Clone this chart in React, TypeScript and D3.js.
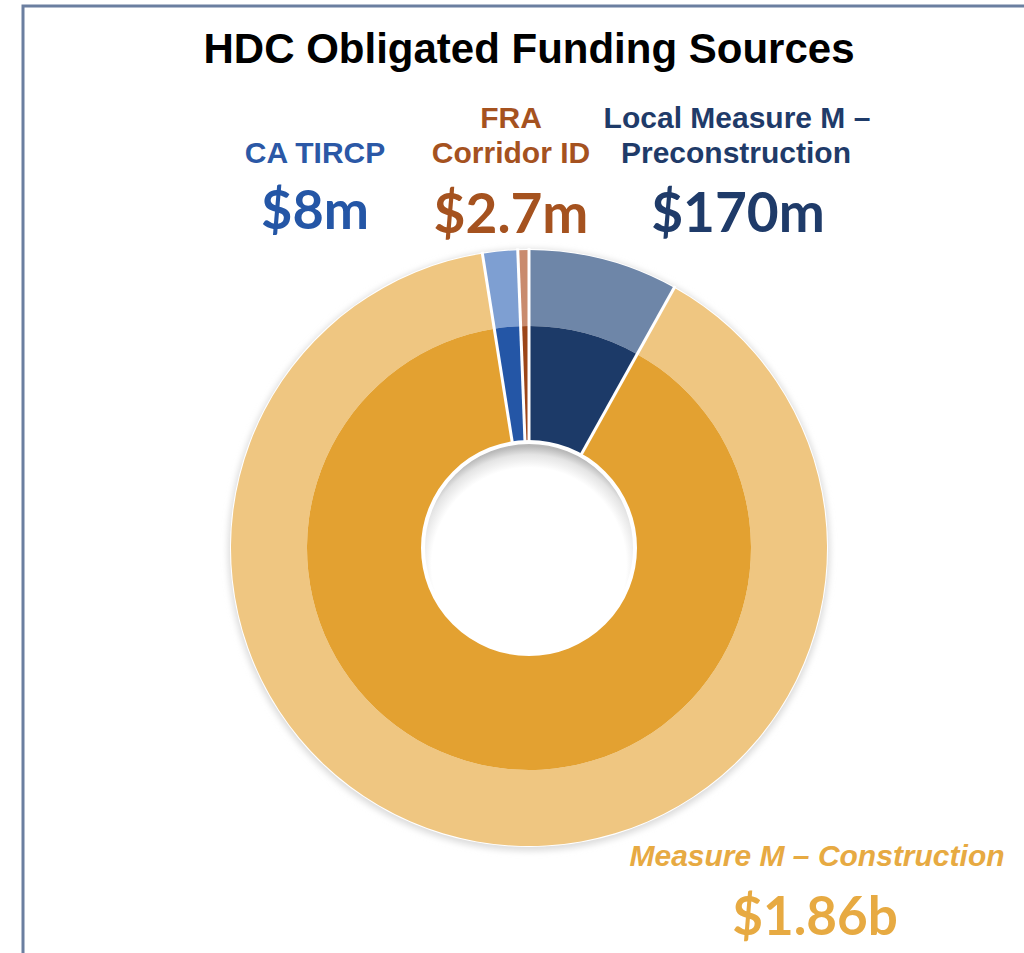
import React from "react";
import * as d3 from "d3";

// Funding sources, in $ millions
const sources = ["Local Measure M – Preconstruction", "Measure M – Construction", "CA TIRCP", "FRA Corridor ID"];
const amounts = [170, 1860, 8, 2.7];
const amountLabels = ["$170m", "$1.86b", "$8m", "$2.7m"];
// slice sizes as drawn in the source (% of the circle) - small slices are enlarged there
const shownShare = [8.1, 89.4, 1.9, 0.6];
const innerColors = ["#1c3a68", "#e3a131", "#2456a6", "#9c4518"];
const outerColors = ["#6e86a8", "#efc681", "#7e9fd2", "#c98b6d"];

const W = 1024;
const H = 953;
const cx = 529;
const cy = 548;
const rHole = 106;
const rMid = 222;
const rOuter = 298;

const App: React.FC = () => {
  const pie = d3
    .pie<number>()
    .sort(null)
    .value((_, i) => shownShare[i]);
  const arcs = pie(amounts);

  const innerArc = d3.arc<d3.PieArcDatum<number>>().innerRadius(rHole).outerRadius(rMid);
  const outerArc = d3.arc<d3.PieArcDatum<number>>().innerRadius(rMid).outerRadius(rOuter);

  const labelFont = "'Liberation Sans', Arial, sans-serif";
  const valueFont = "Lato, 'Open Sans', sans-serif";

  // white separators along the slice edges (radial only)
  const seps = arcs.map((a) => {
    const t = a.startAngle;
    return {
      x1: Math.sin(t) * (rHole - 2),
      y1: -Math.cos(t) * (rHole - 2),
      x2: Math.sin(t) * (rOuter + 2),
      y2: -Math.cos(t) * (rOuter + 2),
    };
  });

  return (
    <svg width={W} height={H} style={{ position: "absolute", left: 0, top: 0, background: "#fff" }}>
      <defs>
        <radialGradient id="holeShade" cx="50%" cy="58%" r="56%">
          <stop offset="0.82" stopColor="#ffffff" />
          <stop offset="0.93" stopColor="#e4e4e4" />
          <stop offset="1" stopColor="#b9b9b9" />
        </radialGradient>
        <filter id="ringShadow" x="-10%" y="-10%" width="120%" height="120%">
          <feGaussianBlur stdDeviation="3" />
        </filter>
      </defs>

      {/* frame */}
      <path d={`M23,${H} L23,6 L${W},6`} fill="none" stroke="#6b7fa0" strokeWidth={3} />

      <text x={529} y={63} textAnchor="middle" fontFamily={labelFont} fontWeight="bold" fontSize={42} fill="#000">
        HDC Obligated Funding Sources
      </text>

      {/* soft shadow round the donut */}
      <circle cx={cx} cy={cy + 2} r={rOuter + 3} fill="#dcdcdc" filter="url(#ringShadow)" />

      <g transform={`translate(${cx},${cy})`}>
        <circle r={rOuter + 1} fill="#fff" />
        {arcs.map((a, i) => (
          <path key={"o" + i} d={outerArc(a) || ""} fill={outerColors[i]} />
        ))}
        {arcs.map((a, i) => (
          <path key={"i" + i} d={innerArc(a) || ""} fill={innerColors[i]} />
        ))}
        {seps.map((s, i) => (
          <line key={"s" + i} {...s} stroke="#fff" strokeWidth={3} />
        ))}
        <circle r={rHole} fill="url(#holeShade)" stroke="#ffffff" strokeWidth={4} />
      </g>

      {/* labels */}
      <g fontFamily={labelFont} fontWeight="bold" textAnchor="middle">
        <text x={315} y={163} fontSize={30} fill="#2b58a6">CA TIRCP</text>
        <text x={511} y={128} fontSize={30} fill="#a5521f">FRA</text>
        <text x={511} y={163} fontSize={30} fill="#a5521f">Corridor ID</text>
        <text x={737} y={128} fontSize={30} fill="#1f3b69">Local Measure M –</text>
        <text x={736} y={163} fontSize={30} fill="#1f3b69">Preconstruction</text>
        <text x={817} y={866} fontSize={30} fontStyle="italic" fill="#e7aa42">{sources[1]}</text>
      </g>
      <g fontFamily={valueFont} fontWeight="bold" textAnchor="middle">
        <text x={315} y={229} fontSize={54} fill={innerColors[2]}>{amountLabels[2]}</text>
        <text x={511} y={233} fontSize={55} fill="#a5521f">{amountLabels[3]}</text>
        <text x={738} y={232} fontSize={55} fill="#1f3b69">{amountLabels[0]}</text>
        <text x={815} y={935} fontSize={53} fill="#e7aa42">{amountLabels[1]}</text>
      </g>
    </svg>
  );
};

export default App;
